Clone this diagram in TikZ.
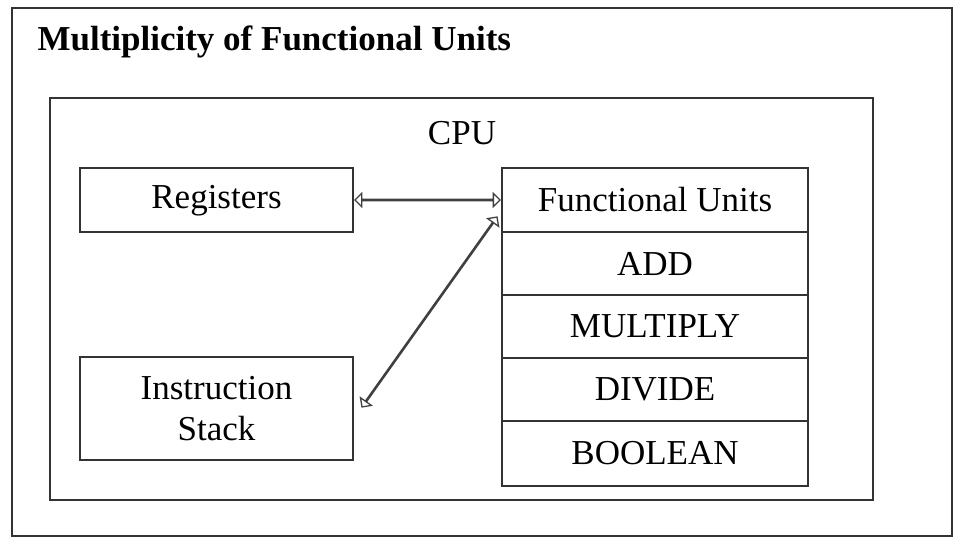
\documentclass[tikz,border=0pt]{standalone}
\usepackage{fontspec}
\setmainfont{Liberation Serif}
\usetikzlibrary{shapes.arrows, positioning, calc}
\tikzstyle{box} = [rectangle, draw=black!80, line width=1.3pt, anchor=north west, text centered, inner sep=0pt, outer sep=0pt]
\tikzstyle{unit} = [box, minimum width=306pt, minimum height=63pt]
\tikzstyle{link} = [double arrow, draw=black!75, line width=1.3pt, minimum width=11pt, double arrow head extend=6pt, inner sep=0pt, outer sep=0pt, minimum height=#1]

\begin{document}
\begin{tikzpicture}[x=1pt, y=-1pt, font=\fontsize{35}{37}\selectfont]
\useasboundingbox (0,0) rectangle (960,546);
\node (frame) [box, minimum width=940pt, minimum height=528pt] at (12,8) {};
\node (title) [anchor=west, font=\fontsize{35}{37}\selectfont\bfseries] at (34,42) {Multiplicity of Functional Units};
\node (cpu) [box, minimum width=823pt, minimum height=402pt] at (50,98) {};
\node (cpulabel) at (462,133) {CPU};
\node (reg) [box, minimum width=273pt, minimum height=64pt, text depth=6pt] at (80,168) {Registers};
\node (stack) [box, minimum width=273pt, minimum height=103pt, align=center, font=\fontsize{35}{41}\selectfont] at (80,357) {Instruction\\Stack};
\node (fu) [unit, minimum height=64pt] at (502,168) {Functional Units};
\node (add) [unit, below=0pt of fu.south west, anchor=north west] {ADD};
\node (mul) [unit, below=0pt of add.south west, anchor=north west] {MULTIPLY};
\node (div) [unit, below=0pt of mul.south west, anchor=north west] {DIVIDE};
\node (bool) [unit, below=0pt of div.south west, anchor=north west, minimum height=65pt] {BOOLEAN};

\coordinate (regend) at ($(reg.east)+(2,0)$);
\coordinate (fuend) at ($(fu.west)+(-2,0)$);
\coordinate (stackend) at (362,407);
\coordinate (fucorner) at (497,217);
\node (regarrow) [link=145pt] at ($(regend)!0.5!(fuend)$) {};
\node (stackarrow) [link=233pt, rotate=54.6] at ($(stackend)!0.5!(fucorner)$) {};
\end{tikzpicture}
\end{document}
